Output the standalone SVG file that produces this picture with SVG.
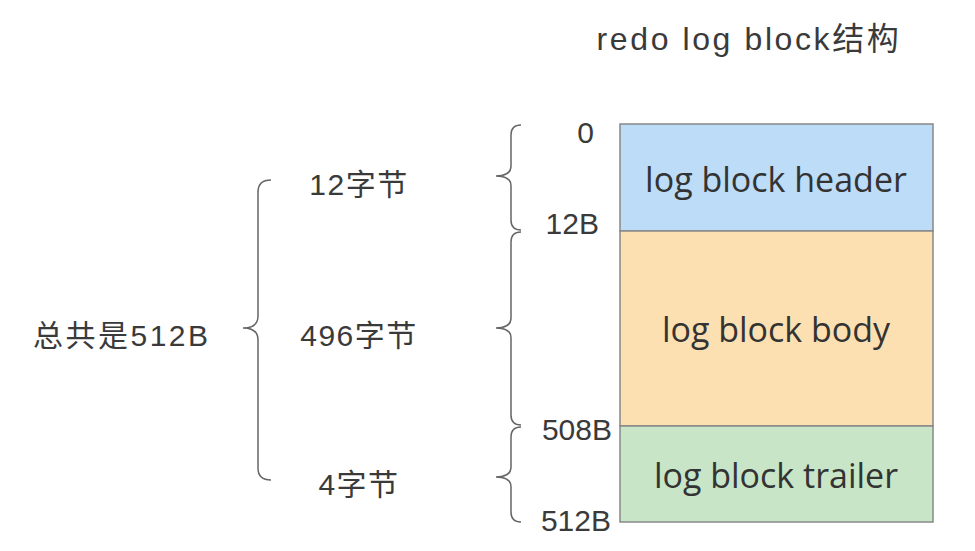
<svg xmlns="http://www.w3.org/2000/svg" width="975" height="551" viewBox="0 0 975 551">
<style>
.lbl{font-family:"Liberation Sans","Noto Sans CJK SC",sans-serif;font-size:30px;fill:#3a3a3a}
.cj{letter-spacing:1.5px}
.box{stroke:#888;stroke-width:1.5}
.btxt{font-family:"Open Sans","Noto Sans CJK SC",sans-serif;font-size:34px;fill:#333;text-anchor:middle}
.brace{fill:none;stroke:#666;stroke-width:1.5}
</style>
<rect width="975" height="551" fill="#fff"/>
<text x="749" y="50" class="lbl" style="font-size:32px;letter-spacing:2.6px;text-anchor:middle">redo log block结构</text>
<g id="header"><rect class="box" x="620" y="124" width="313" height="107" fill="#bddcf7"/><text class="btxt" x="776" y="192">log block header</text></g>
<g id="body"><rect class="box" x="620" y="231" width="313" height="195" fill="#fde0b1"/><text class="btxt" x="776" y="342">log block body</text></g>
<g id="trailer"><rect class="box" x="620" y="426" width="313" height="96" fill="#c8e5c7"/><text class="btxt" x="776" y="488">log block trailer</text></g>
<g id="offsets">
<text class="lbl" x="594" y="143" text-anchor="end">0</text>
<text class="lbl" x="599" y="234" text-anchor="end">12B</text>
<text class="lbl" x="612" y="440" text-anchor="end">508B</text>
<text class="lbl" x="611" y="531" text-anchor="end">512B</text>
</g>
<g id="sizes">
<text class="lbl cj" x="359" y="195" text-anchor="middle">12字节</text>
<text class="lbl cj" x="359" y="346" text-anchor="middle">496字节</text>
<text class="lbl cj" x="359" y="495" text-anchor="middle">4字节</text>
<text class="lbl" x="33" y="346" style="letter-spacing:2.5px">总共是512B</text>
</g>
<g id="connectors">
<path class="brace" d="M521,125 Q511,125 511,135 L511,166 Q511,176 496,176 Q511,176 511,186 L511,220 Q511,230 521,230"/>
<path class="brace" d="M521,232 Q511,232 511,242 L511,318 Q511,328 496,328 Q511,328 511,338 L511,415 Q511,425 521,425"/>
<path class="brace" d="M521,427 Q511,427 511,437 L511,467 Q511,477 496,477 Q511,477 511,487 L511,512 Q511,522 521,522"/>
<path class="brace" d="M271,180 Q258,180 258,192 L258,316 Q258,328 243,328 Q258,328 258,340 L258,468 Q258,480 271,480"/>
</g>
</svg>
